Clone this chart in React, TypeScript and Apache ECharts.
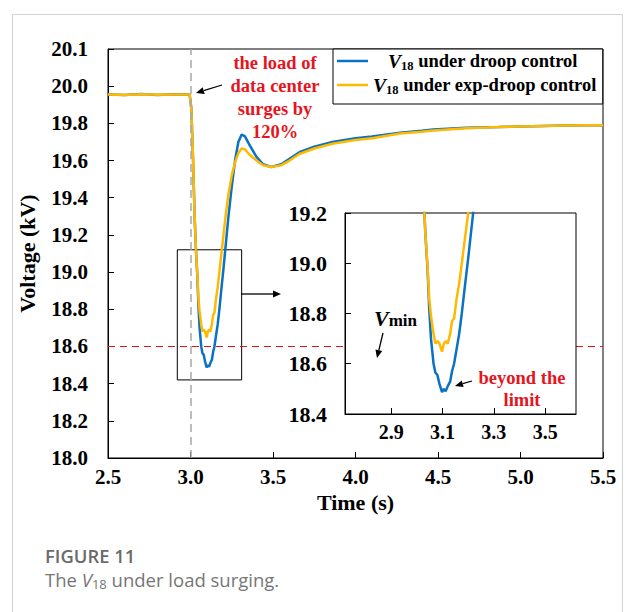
import React, { useEffect, useRef } from 'react';
import * as echarts from 'echarts';

// ---- data ----
const time = [
  2.5, 2.6, 2.7, 2.8, 2.9, 2.995, 3.005, 3.015, 3.025, 3.033, 3.042, 3.048, 3.055, 3.065,
  3.072, 3.08, 3.088, 3.098, 3.105, 3.112, 3.12, 3.13, 3.137, 3.145, 3.155, 3.165, 3.175,
  3.185, 3.2, 3.215, 3.23, 3.25, 3.27, 3.29, 3.31, 3.33, 3.36, 3.4, 3.44, 3.49, 3.55, 3.6,
  3.66, 3.75, 3.86, 4.0, 4.1, 4.27, 4.4, 4.47, 4.67, 4.87, 5.07, 5.27, 5.4, 5.5,
];
const droop = [
  19.955, 19.952, 19.958, 19.953, 19.956, 19.955, 19.88, 19.62, 19.3, 19.12, 18.97, 18.82, 18.7, 18.6,
  18.565, 18.555, 18.52, 18.487, 18.5, 18.49, 18.51, 18.53, 18.57, 18.6, 18.66, 18.72, 18.8,
  18.89, 19.02, 19.16, 19.3, 19.46, 19.6, 19.7, 19.74, 19.73, 19.68, 19.62, 19.58, 19.565, 19.58, 19.61,
  19.645, 19.675, 19.7, 19.72, 19.73, 19.75, 19.76, 19.767, 19.776, 19.78, 19.785, 19.789, 19.79, 19.79,
];
const expDroop = [
  19.955, 19.953, 19.957, 19.954, 19.955, 19.955, 19.88, 19.62, 19.3, 19.12, 18.98, 18.86, 18.79, 18.72,
  18.68, 18.69, 18.68, 18.648, 18.68, 18.69, 18.68, 18.72, 18.77, 18.78, 18.86, 18.92, 19.0,
  19.08, 19.2, 19.32, 19.42, 19.52, 19.59, 19.64, 19.665, 19.66, 19.63, 19.6, 19.575, 19.565, 19.575, 19.6,
  19.635, 19.665, 19.69, 19.71, 19.72, 19.745, 19.755, 19.762, 19.774, 19.78, 19.785, 19.788, 19.79, 19.79,
];
const yTickLabels = ['18.0', '18.2', '18.4', '18.6', '18.8', '19.0', '19.2', '19.4', '19.6', '19.8', '20.0', '20.1'];
const insetXTicks = [2.9, 3.1, 3.3, 3.5];
const vMin = 18.6;
const surgeTime = 3.0;
const zoomBox = { x0: 2.92, x1: 3.31, yTop: 19.12, yBottom: 18.42 };

const BLUE = '#0a72c2';
const ORANGE = '#ffb900';
const RED = '#e5141e';
const FONT = '"Liberation Serif", "Times New Roman", serif';
const SANS = '"Open Sans", "Noto Sans", sans-serif';

function arrow(x1: number, y1: number, x2: number, y2: number, color: string) {
  const dx = x2 - x1;
  const dy = y2 - y1;
  const len = Math.sqrt(dx * dx + dy * dy);
  const ux = dx / len;
  const uy = dy / len;
  const hl = 8;
  const hw = 3.5;
  const bx = x2 - ux * hl;
  const by = y2 - uy * hl;
  return [
    { type: 'line', z: 30, shape: { x1, y1, x2: bx, y2: by }, style: { stroke: color, lineWidth: 1.3 } },
    {
      type: 'polygon',
      z: 30,
      shape: { points: [[x2, y2], [bx - uy * hw, by + ux * hw], [bx + uy * hw, by - ux * hw]] },
      style: { fill: color },
    },
  ];
}

export default function App() {
  const ref = useRef<HTMLDivElement>(null);
  useEffect(() => {
    if (!ref.current) return;
    const chart = echarts.init(ref.current, undefined, { renderer: 'svg' });
    const droopData = time.map((t, i) => [t, droop[i]]);
    const expData = time.map((t, i) => [t, expDroop[i]]);

    const axisLabelMain = { color: '#000', fontSize: 21, fontWeight: 'bold', fontFamily: FONT };
    const legendRich = {
      i: { fontStyle: 'italic', fontWeight: 'bold', fontSize: 19.5, fontFamily: FONT, color: '#000', lineHeight: 22 },
      s: { fontWeight: 'bold', fontSize: 12.5, fontFamily: FONT, color: '#000', verticalAlign: 'bottom', lineHeight: 13 },
      t: { fontWeight: 'bold', fontSize: 18.5, fontFamily: FONT, color: '#000', lineHeight: 22 },
      g: { width: 15, fontSize: 18, lineHeight: 22 },
    };

    const option: any = {
      animation: false,
      backgroundColor: '#fff',
      textStyle: { fontFamily: FONT },
      grid: [
        { left: 108, top: 49, width: 495, height: 409, show: true, borderColor: '#000', borderWidth: 1, backgroundColor: 'transparent', z: 0 },
        { left: 345, top: 213, width: 231, height: 201, show: true, borderColor: '#000', borderWidth: 1, backgroundColor: '#fff', z: 10 },
      ],
      legend: {
        orient: 'vertical',
        left: 333,
        top: 49,
        icon: 'rect',
        itemWidth: 31,
        itemHeight: 2.5,
        itemGap: 3,
        padding: [2, 6, 8, 4],
        borderColor: '#000',
        borderWidth: 1,
        backgroundColor: '#fff',
        z: 20,
        data: ['droop', 'exp'],
        formatter: (name: string) =>
          name === 'droop'
            ? '{g| }{i|V}{s|18}{t| under droop control}'
            : '{i|V}{s|18}{t| under exp-droop control}',
        textStyle: { rich: legendRich, fontFamily: FONT, fontSize: 18.5, fontWeight: 'bold', color: '#000' },
      },
      xAxis: [
        {
          gridIndex: 0,
          type: 'value',
          min: 2.5,
          max: 5.5,
          interval: 0.5,
          axisLine: { show: true, onZero: false, lineStyle: { color: '#000', width: 1 } },
          axisTick: { show: true, inside: true, length: 6, lineStyle: { color: '#000' } },
          axisLabel: { ...axisLabelMain, margin: 8, formatter: (v: number) => v.toFixed(1) },
          splitLine: { show: false },
          name: 'Time (s)',
          nameLocation: 'middle',
          nameGap: 31,
          nameTextStyle: { color: '#000', fontSize: 22, fontWeight: 'bold', fontFamily: FONT },
        },
        {
          gridIndex: 1,
          type: 'value',
          min: 2.72,
          max: 3.62,
          axisLine: { show: true, onZero: false, lineStyle: { color: '#000', width: 1 } },
          axisTick: { show: true, inside: true, length: 6, customValues: insetXTicks, lineStyle: { color: '#000' } },
          axisLabel: { ...axisLabelMain, fontSize: 20, margin: 8, customValues: insetXTicks, formatter: (v: number) => v.toFixed(1) },
          splitLine: { show: false },
          z: 11,
        },
      ],
      yAxis: [
        {
          gridIndex: 0,
          type: 'value',
          min: 18.0,
          max: 20.2,
          interval: 0.2,
          axisLine: { show: true, onZero: false, lineStyle: { color: '#000', width: 1 } },
          axisTick: { show: true, inside: true, length: 6, lineStyle: { color: '#000' } },
          axisLabel: {
            ...axisLabelMain,
            margin: 20,
            formatter: (v: number) => yTickLabels[Math.round((v - 18.0) / 0.2)] ?? '',
          },
          splitLine: { show: false },
          name: 'Voltage (kV)',
          nameLocation: 'middle',
          nameRotate: 90,
          nameGap: 70,
          nameTextStyle: { color: '#000', fontSize: 22, fontWeight: 'bold', fontFamily: FONT },
        },
        {
          gridIndex: 1,
          type: 'value',
          min: 18.4,
          max: 19.2,
          interval: 0.2,
          axisLine: { show: true, onZero: false, lineStyle: { color: '#000', width: 1 } },
          axisTick: { show: true, inside: true, length: 6, lineStyle: { color: '#000' } },
          axisLabel: { ...axisLabelMain, fontSize: 22, margin: 18, formatter: (v: number) => v.toFixed(1) },
          splitLine: { show: false },
          z: 11,
        },
      ],
      series: [
        {
          name: 'droop',
          type: 'line',
          xAxisIndex: 0,
          yAxisIndex: 0,
          data: droopData,
          symbol: 'none',
          showSymbol: false,
          lineStyle: { color: BLUE, width: 2.5 },
          itemStyle: { color: BLUE },
          z: 3,
          markLine: {
            silent: true,
            symbol: 'none',
            label: { show: false },
            data: [
              { yAxis: vMin, lineStyle: { color: RED, type: [7, 5], width: 1.2 } },
              { xAxis: surgeTime, lineStyle: { color: '#a8a8a8', type: [8, 5], width: 1.5 } },
            ],
          },
          markArea: {
            silent: true,
            itemStyle: { color: 'rgba(0,0,0,0)', borderColor: '#000', borderWidth: 1 },
            data: [[{ xAxis: zoomBox.x0, yAxis: zoomBox.yTop }, { xAxis: zoomBox.x1, yAxis: zoomBox.yBottom }]],
          },
        },
        {
          name: 'exp',
          type: 'line',
          xAxisIndex: 0,
          yAxisIndex: 0,
          data: expData,
          symbol: 'none',
          showSymbol: false,
          lineStyle: { color: ORANGE, width: 2.5 },
          itemStyle: { color: ORANGE },
          z: 4,
        },
        {
          name: 'droop',
          type: 'line',
          xAxisIndex: 1,
          yAxisIndex: 1,
          data: droopData,
          symbol: 'none',
          showSymbol: false,
          clip: true,
          lineStyle: { color: BLUE, width: 2.5 },
          itemStyle: { color: BLUE },
          z: 12,
          markLine: {
            silent: true,
            symbol: 'none',
            label: { show: false },
            data: [{ yAxis: vMin, lineStyle: { color: RED, type: [7, 5], width: 1.2 } }],
          },
        },
        {
          name: 'exp',
          type: 'line',
          xAxisIndex: 1,
          yAxisIndex: 1,
          data: expData,
          symbol: 'none',
          showSymbol: false,
          clip: true,
          lineStyle: { color: ORANGE, width: 2.5 },
          itemStyle: { color: ORANGE },
          z: 13,
        },
      ],
      graphic: [
        {
          type: 'rect',
          z: -10,
          silent: true,
          shape: { x: 12.5, y: 14.5, width: 610, height: 700 },
          style: { fill: 'none', stroke: '#d2d2d2', lineWidth: 1 },
        },
        {
          type: 'text',
          z: 30,
          style: {
            text: 'the load of\ndata center\nsurges by\n120%',
            x: 275,
            y: 51.5,
            textAlign: 'center',
            textVerticalAlign: 'top',
            lineHeight: 23,
            fill: RED,
            font: 'bold 18.5px "Liberation Serif"',
          },
        },
        ...arrow(222, 85, 196, 93, '#000'),
        ...arrow(241, 294, 281, 294, '#000'),
        {
          type: 'text',
          z: 30,
          style: {
            text: '{v|V}{m|min}',
            x: 374,
            y: 329,
            textAlign: 'left',
            textVerticalAlign: 'bottom',
            rich: {
              v: { fontStyle: 'italic', fontWeight: 'bold', fontSize: 22, fontFamily: FONT, fill: '#000', lineHeight: 22, verticalAlign: 'bottom' },
              m: { fontWeight: 'bold', fontSize: 17, fontFamily: FONT, fill: '#000', lineHeight: 17, verticalAlign: 'bottom' },
            },
          },
        },
        ...arrow(383, 333, 377, 358, '#000'),
        {
          type: 'text',
          z: 30,
          style: {
            text: 'beyond the\nlimit',
            x: 522,
            y: 367,
            textAlign: 'center',
            textVerticalAlign: 'top',
            lineHeight: 22,
            fill: RED,
            font: 'bold 18.5px "Liberation Serif"',
          },
        },
        ...arrow(472, 381, 455, 386, '#000'),
        {
          type: 'text',
          z: 30,
          style: {
            text: 'FIGURE 11',
            x: 45,
            y: 555,
            textVerticalAlign: 'middle',
            fill: '#6a6a6a',
            font: `600 18.4px ${SANS}`,
          },
        },
        {
          type: 'text',
          z: 30,
          style: {
            text: '{n|The }{i|V}{s|18}{n| under load surging.}',
            x: 45,
            y: 579,
            textVerticalAlign: 'middle',
            rich: {
              n: { fontSize: 18.5, fontFamily: SANS, fill: '#767676', lineHeight: 22 },
              i: { fontSize: 18.5, fontStyle: 'italic', fontFamily: SANS, fill: '#767676', lineHeight: 22 },
              s: { fontSize: 13, fontFamily: SANS, fill: '#767676', lineHeight: 13, verticalAlign: 'bottom' },
            },
          },
        },
      ],
    };
    chart.setOption(option);
    return () => chart.dispose();
  }, []);
  return (
    <div
      ref={ref}
      style={{ position: 'fixed', left: 0, top: 0, width: 626, height: 612, background: '#fff' }}
    />
  );
}
